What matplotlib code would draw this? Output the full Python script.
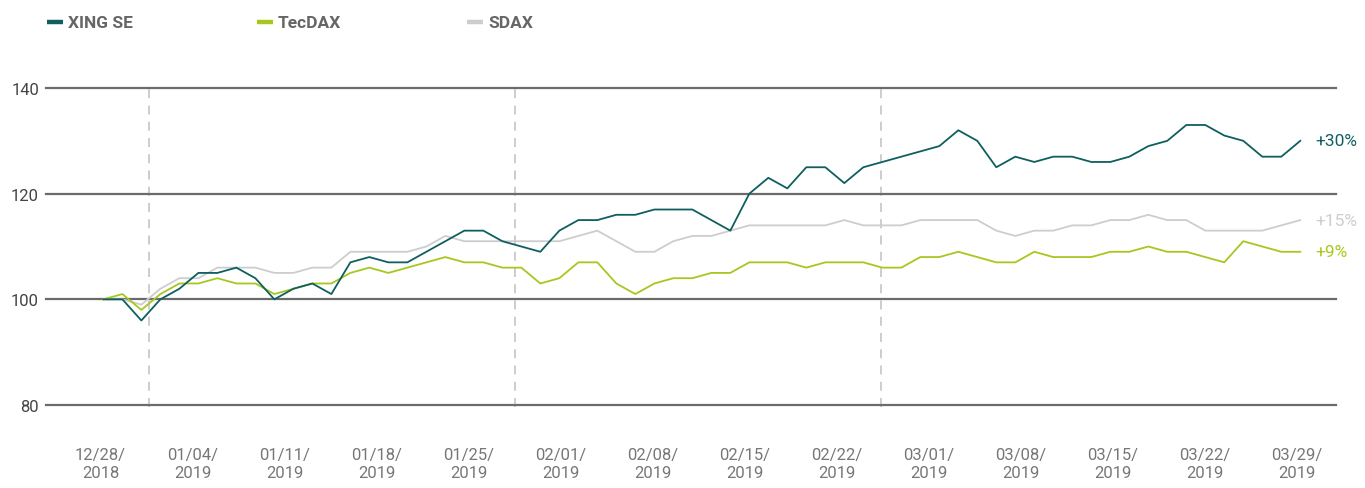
import matplotlib
matplotlib.use("Agg")
import matplotlib.pyplot as plt
from matplotlib.lines import Line2D
import numpy as np

# Trading days 12/28/2018 .. 03/29/2019, indexed to 100
xing_se = [100, 100, 96, 100, 102, 105, 105, 106, 104, 100, 102, 103, 101,
           107, 108, 107, 107, 109, 111, 113, 113, 111, 110, 109, 113, 115,
           115, 116, 116, 117, 117, 117, 115, 113, 120, 123, 121, 125, 125,
           122, 125, 126, 127, 128, 129, 132, 130, 125, 127, 126, 127,
           127, 126, 126, 127, 129, 130, 133, 133, 131, 130, 127, 127, 130]
tecdax = [100, 101, 98, 101, 103, 103, 104, 103, 103, 101, 102, 103, 103,
          105, 106, 105, 106, 107, 108, 107, 107, 106, 106, 103, 104, 107,
          107, 103, 101, 103, 104, 104, 105, 105, 107, 107, 107, 106, 107,
          107, 107, 106, 106, 108, 108, 109, 108, 107, 107, 109, 108,
          108, 108, 109, 109, 110, 109, 109, 108, 107, 111, 110, 109, 109]
sdax = [100, 100, 99, 102, 104, 104, 106, 106, 106, 105, 105, 106, 106,
        109, 109, 109, 109, 110, 112, 111, 111, 111, 111, 111, 111, 112,
        113, 111, 109, 109, 111, 112, 112, 113, 114, 114, 114, 114, 114,
        115, 114, 114, 114, 115, 115, 115, 115, 113, 112, 113, 113,
        114, 114, 115, 115, 116, 115, 115, 113, 113, 113, 113, 114, 115]

week_labels = ["12/28/\n2018", "01/04/\n2019", "01/11/\n2019", "01/18/\n2019",
               "01/25/\n2019", "02/01/\n2019", "02/08/\n2019", "02/15/\n2019",
               "02/22/\n2019", "03/01/\n2019", "03/08/\n2019", "03/15/\n2019",
               "03/22/\n2019", "03/29/\n2019"]
y_ticks = [80, 100, 120, 140]
end_labels = ["+30%", "+9%", "+15%"]

TEAL = "#0f5f60"
GREEN = "#a6c81e"
GREY = "#cdcdcd"
FONT = "Roboto"


def main():
    plt.rcParams["font.family"] = [FONT, "DejaVu Sans"]

    fig = plt.figure(figsize=(13.65, 4.89), dpi=100)
    W, H = 1365, 489
    ax = fig.add_axes([46 / W, (H - 406) / H, (1336 - 46) / W, (406 - 89) / H])

    x = np.arange(len(xing_se))
    ax.set_xlim(-3.02, 64.88)
    ax.set_ylim(80, 140)

    # horizontal grid, solid dark grey
    for yv in y_ticks:
        ax.axhline(yv, color="#6b6b6b", lw=1.6, zorder=1, clip_on=False)

    # dashed separators
    for xv in [2.41, 21.67, 40.93]:
        ax.plot([xv, xv], [79.6, 140], color="#c9c9c9", lw=1.3,
                dashes=(5, 4), zorder=0, clip_on=False)

    ax.plot(x, sdax, color=GREY, lw=1.3, zorder=3)
    ax.plot(x, tecdax, color=GREEN, lw=1.3, zorder=4)
    ax.plot(x, xing_se, color=TEAL, lw=1.3, zorder=5)

    # end-of-line labels
    for series, label, col in [(xing_se, end_labels[0], TEAL),
                               (tecdax, end_labels[1], GREEN),
                               (sdax, end_labels[2], GREY)]:
        ax.annotate(label, (x[-1], series[-1]), xytext=(11, 0),
                    textcoords="offset points", va="center", ha="left",
                    color=col, fontsize=12.5, annotation_clip=False)

    for s in ax.spines.values():
        s.set_visible(False)

    ax.set_yticks(y_ticks)
    ax.set_yticklabels([str(v) for v in y_ticks])
    ax.tick_params(axis="y", length=0, pad=5, labelsize=12, labelcolor="#444444")

    ax.set_xticks(np.linspace(-0.15, 62.8, len(week_labels)))
    ax.set_xticklabels(week_labels, linespacing=1.3)
    ax.tick_params(axis="x", length=0, pad=30, labelsize=12, labelcolor="#777777")

    # legend across the top
    legend = [("XING SE", TEAL, 47), ("TecDAX", GREEN, 257), ("SDAX", GREY, 467)]
    for name, col, px in legend:
        fig.add_artist(Line2D([px / W, (px + 16) / W], [(H - 23) / H] * 2,
                              color=col, lw=3.2, solid_capstyle="butt"))
        fig.text((px + 21) / W, (H - 23) / H, name, color="#666666",
                 fontsize=12.5, fontweight="bold", va="center", ha="left")

    fig.savefig("out.png", dpi=100)


if __name__ == "__main__":
    main()
